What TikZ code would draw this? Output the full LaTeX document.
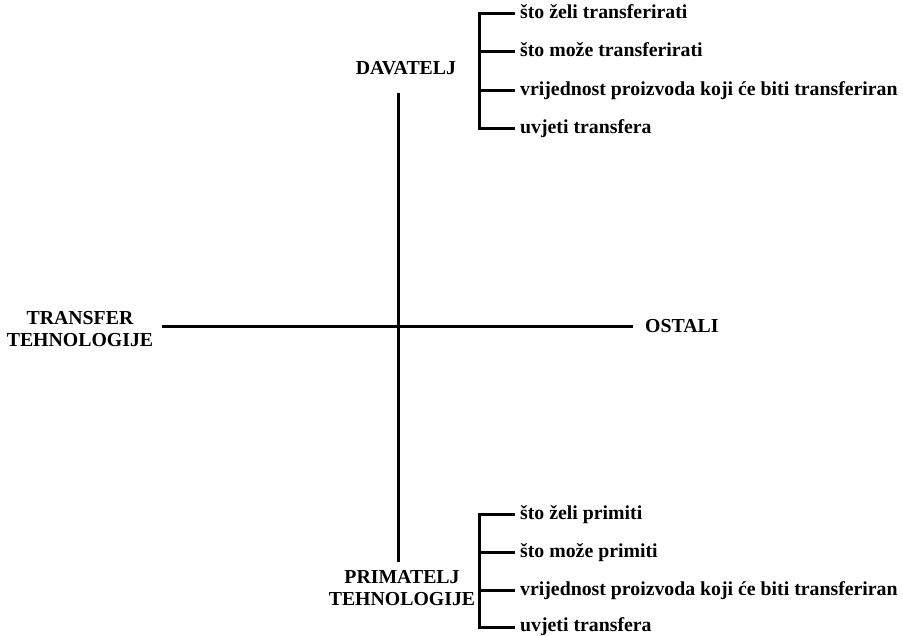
\documentclass[tikz,border=0pt]{standalone}
\usepackage{fontspec}
\setmainfont{Liberation Serif}
\begin{document}
\begin{tikzpicture}[x=1pt,y=-1pt,
  lbl/.style={font=\bfseries\fontsize{19.8}{22.5}\selectfont, inner sep=0pt},
  itm/.style={lbl, anchor=base west},
  ln/.style={line width=3pt, line cap=butt},
  br/.style={line width=3pt, line join=miter}]
\useasboundingbox (0,0) rectangle (903,636);
% main cross
\coordinate (vtop) at (398,93);
\coordinate (vbot) at (398,562);
\coordinate (hl) at (162,327);
\coordinate (hr) at (633,327);
\draw[ln] (vtop) -- (vbot);
\draw[ln] (hl) -- (hr);
% main labels
\node[lbl, align=center] (tt) at (80,329) {TRANSFER\\TEHNOLOGIJE};
\node[lbl, anchor=west] (ost) at (645,326) {OSTALI};
\node[lbl] (dav) at (406,68) {DAVATELJ};
\node[lbl, align=center] (prim) at (402,588) {PRIMATELJ\\TEHNOLOGIJE};
% top bracket
\coordinate (t1) at (479,14);
\coordinate (t2) at (479,52);
\coordinate (t3) at (479,91);
\coordinate (t4) at (479,129);
\node[itm] (ta) at (520,19) {što želi transferirati};
\node[itm] (tb) at (520,57) {što može transferirati};
\node[itm] (tc) at (520,96) {vrijednost proizvoda koji će biti transferiran};
\node[itm] (td) at (520,134) {uvjeti transfera};
\draw[br] (ta.base west |- t1) ++(-5,0) coordinate (t1e) -- (t1) -- (t4) -- (t4 -| t1e);
\draw[ln] (t2) -- (t2 -| t1e);
\draw[ln] (t3) -- (t3 -| t1e);
% bottom bracket
\coordinate (b1) at (479,514);
\coordinate (b2) at (479,552);
\coordinate (b3) at (479,590);
\coordinate (b4) at (479,627);
\node[itm] (ba) at (520,519) {što želi primiti};
\node[itm] (bb) at (520,557) {što može primiti};
\node[itm] (bc) at (520,595) {vrijednost proizvoda koji će biti transferiran};
\node[itm] (bd) at (520,631) {uvjeti transfera};
\draw[br] (ba.base west |- b1) ++(-5,0) coordinate (b1e) -- (b1) -- (b4) -- (b4 -| b1e);
\draw[ln] (b2) -- (b2 -| b1e);
\draw[ln] (b3) -- (b3 -| b1e);
\end{tikzpicture}
\end{document}
